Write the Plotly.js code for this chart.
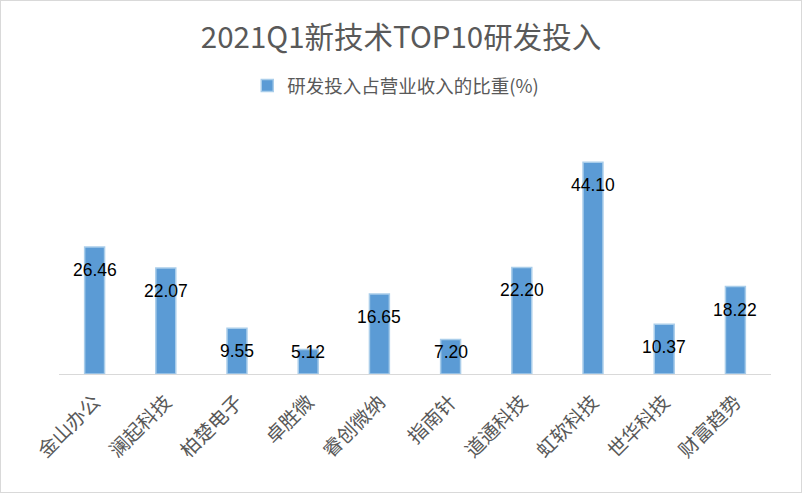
<!DOCTYPE html>
<html>
<head>
<meta charset="utf-8">
<script src="https://cdn.plot.ly/plotly-3.0.1.min.js"></script>
<style>
  html, body { margin: 0; padding: 0; background: #fff; }
  #chart { width: 802px; height: 493px; box-sizing: border-box; border: 1px solid #d9d9d9; }
</style>
</head>
<body>
<div id="chart"></div>
<script>
// 公司名称 (x轴)
var companies = ['金山办公', '澜起科技', '柏楚电子', '卓胜微', '睿创微纳', '指南针', '道通科技', '虹软科技', '世华科技', '财富趋势'];
// 研发投入占营业收入的比重(%)
var ratios = [26.46, 22.07, 9.55, 5.12, 16.65, 7.20, 22.20, 44.10, 10.37, 18.22];

var CJK = '"Noto Sans CJK SC", "Microsoft YaHei", sans-serif';

var trace = {
    x: companies,
    y: ratios,
    type: 'bar',
    name: '研发投入占营业收入的比重(%)',
    marker: {
        color: '#5b9bd5',
        line: { color: '#a9cdea', width: 1.5 }
    },
    hoverinfo: 'x+y',
    showlegend: true
};

// 数据标签：放在柱顶下方，小柱子时贴近底部
var labels = companies.map(function (c, i) {
    return {
        x: c,
        y: ratios[i],
        yshift: Math.max(-23, 22 - ratios[i] * 4.79),
        text: ratios[i].toFixed(2),
        showarrow: false,
        font: { family: 'Liberation Sans, Arial, sans-serif', size: 17.5, color: '#000' }
    };
});

var layout = {
    width: 800,
    height: 491,
    margin: { l: 58, r: 30, t: 133, b: 118 },
    paper_bgcolor: '#fff',
    plot_bgcolor: '#fff',
    title: {
        text: '2021Q1新技术TOP10研发投入',
        font: { family: CJK, size: 29.5, color: '#595959' },
        x: 0.5, xanchor: 'center',
        y: 0.925, yanchor: 'middle'
    },
    legend: {
        orientation: 'h',
        x: 0.473, xanchor: 'center',
        y: 1.2, yanchor: 'middle',
        font: { family: CJK, size: 18.5, color: '#595959' },
        itemwidth: 30
    },
    bargap: 0.72,
    xaxis: {
        type: 'category',
        tickangle: -45,
        tickfont: { family: CJK, size: 19.5, color: '#595959' },
        ticklabelstandoff: 8,
        showline: true,
        linecolor: '#d9d9d9',
        linewidth: 1,
        ticks: '',
        showgrid: false,
        fixedrange: true
    },
    yaxis: {
        range: [0, 50],
        visible: false,
        showgrid: false,
        zeroline: false,
        fixedrange: true
    },
    annotations: labels
};

Plotly.newPlot('chart', [trace], layout, { displayModeBar: false, staticPlot: true });
</script>
</body>
</html>
